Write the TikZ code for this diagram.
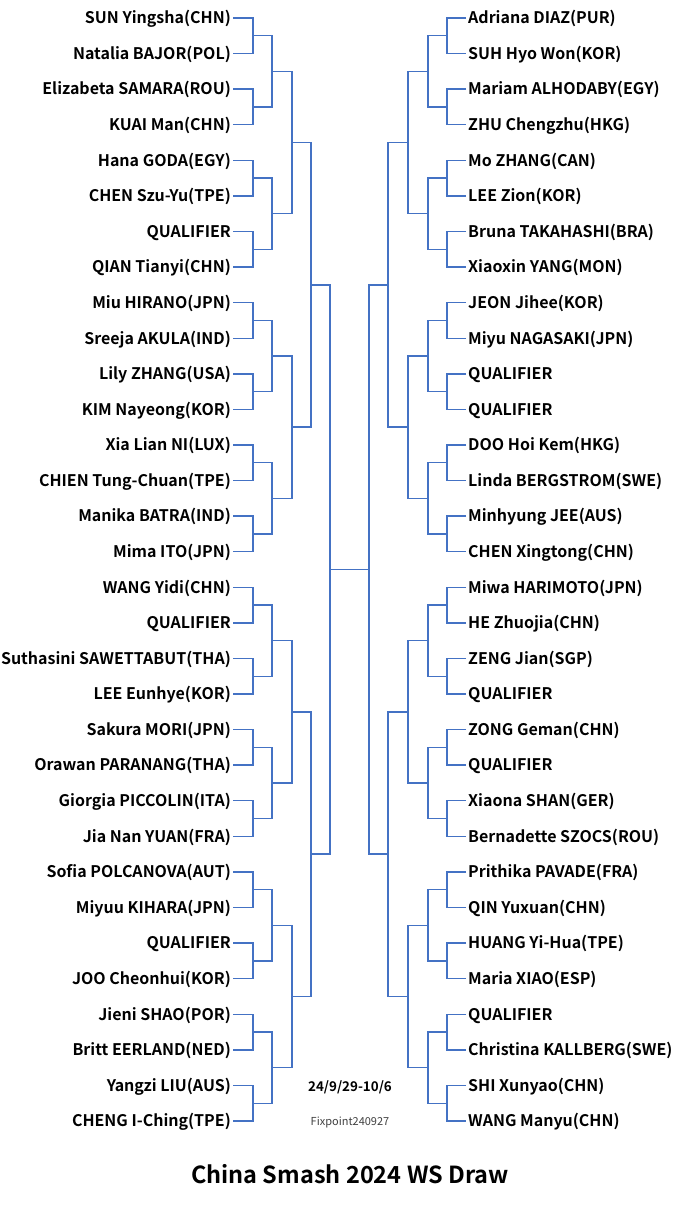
\documentclass[tikz,border=0pt]{standalone}
\usepackage{fontspec}
\setmainfont{Noto Sans CJK JP}[BoldFont={Noto Sans CJK JP Bold}]
\usetikzlibrary{positioning}
\definecolor{bracket}{HTML}{4472C4}
\definecolor{note}{HTML}{404040}
\tikzset{
  pname/.style={font=\fontsize{16}{18}\selectfont\bfseries, inner sep=2pt,
    text height=11.6pt, text depth=0pt},
  bline/.style={draw=bracket, line width=1.4pt},
  dateline/.style={font=\fontsize{13.4}{15}\selectfont\bfseries},
  fixline/.style={font=\fontsize{11}{13}\selectfont, text=note},
  titleline/.style={font=\fontsize{23.5}{26}\selectfont\bfseries}
}

\begin{document}
\begin{tikzpicture}[x=1pt, y=-1pt]
  \useasboundingbox (0,0) rectangle (700,1212);

  % ---- Entries, top to bottom ---------------------------------------------
  % row i sits at y = 18 + (i-1)*35.58
  \foreach \n [count=\i] in {
    SUN Yingsha(CHN), Natalia BAJOR(POL), Elizabeta SAMARA(ROU), KUAI Man(CHN),
    Hana GODA(EGY), CHEN Szu-Yu(TPE), QUALIFIER, QIAN Tianyi(CHN),
    Miu HIRANO(JPN), Sreeja AKULA(IND), Lily ZHANG(USA), KIM Nayeong(KOR),
    Xia Lian NI(LUX), CHIEN Tung-Chuan(TPE), Manika BATRA(IND), Mima ITO(JPN),
    WANG Yidi(CHN), QUALIFIER, Suthasini SAWETTABUT(THA), LEE Eunhye(KOR),
    Sakura MORI(JPN), Orawan PARANANG(THA), Giorgia PICCOLIN(ITA), Jia Nan YUAN(FRA),
    Sofia POLCANOVA(AUT), Miyuu KIHARA(JPN), QUALIFIER, JOO Cheonhui(KOR),
    Jieni SHAO(POR), Britt EERLAND(NED), Yangzi LIU(AUS), CHENG I-Ching(TPE)} {
    \node[pname, anchor=east] (l\i) at (233, {18+(\i-1)*35.58}) {\n};
  }
  \foreach \n [count=\i] in {
    Adriana DIAZ(PUR), SUH Hyo Won(KOR), Mariam ALHODABY(EGY), ZHU Chengzhu(HKG),
    Mo ZHANG(CAN), LEE Zion(KOR), Bruna TAKAHASHI(BRA), Xiaoxin YANG(MON),
    JEON Jihee(KOR), Miyu NAGASAKI(JPN), QUALIFIER, QUALIFIER,
    DOO Hoi Kem(HKG), Linda BERGSTROM(SWE), Minhyung JEE(AUS), CHEN Xingtong(CHN),
    Miwa HARIMOTO(JPN), HE Zhuojia(CHN), ZENG Jian(SGP), QUALIFIER,
    ZONG Geman(CHN), QUALIFIER, Xiaona SHAN(GER), Bernadette SZOCS(ROU),
    Prithika PAVADE(FRA), QIN Yuxuan(CHN), HUANG Yi-Hua(TPE), Maria XIAO(ESP),
    QUALIFIER, Christina KALLBERG(SWE), SHI Xunyao(CHN), WANG Manyu(CHN)} {
    \node[pname, anchor=west] (r\i) at (466, {18+(\i-1)*35.58}) {\n};
  }

  % ---- Round 1: join the pairs --------------------------------------------
  \foreach \j in {1,...,16} {
    \pgfmathtruncatemacro\a{2*\j-1}
    \pgfmathtruncatemacro\b{2*\j}
    \coordinate (la1-\j) at (253, {18+(2*\j-1.5)*35.58});
    \coordinate (ra1-\j) at (447, {18+(2*\j-1.5)*35.58});
    \draw[bline] (l\a.east) -| (la1-\j) |- (l\b.east);
    \draw[bline] (r\a.west) -| (ra1-\j) |- (r\b.west);
  }

  % ---- Later rounds, out to the middle ------------------------------------
  \foreach \r/\xl/\xr [remember=\r as \p (initially 1)] in
      {2/272/428, 3/292/408, 4/311/388, 5/330/369} {
    \pgfmathtruncatemacro\ng{32/(2^\r)}
    \foreach \j in {1,...,\ng} {
      \pgfmathtruncatemacro\a{2*\j-1}
      \pgfmathtruncatemacro\b{2*\j}
      \coordinate (la\r-\j) at (\xl, {18+((\j-0.5)*2^\r-0.5)*35.58});
      \coordinate (ra\r-\j) at (\xr, {18+((\j-0.5)*2^\r-0.5)*35.58});
      \draw[bline] (la\p-\a) -| (la\r-\j) |- (la\p-\b);
      \draw[bline] (ra\p-\a) -| (ra\r-\j) |- (ra\p-\b);
    }
  }

  % ---- Final ---------------------------------------------------------------
  \draw[bline] (la5-1) -- (ra5-1);

  % ---- Notes and title -----------------------------------------------------
  \node[dateline] (dates) at (350, 1087) {24/9/29-10/6};
  \node[fixline] (fix) at (350, 1122) {Fixpoint240927};
  \node[titleline] (title) at (350, 1174) {China Smash 2024 WS Draw};

\end{tikzpicture}
\end{document}
